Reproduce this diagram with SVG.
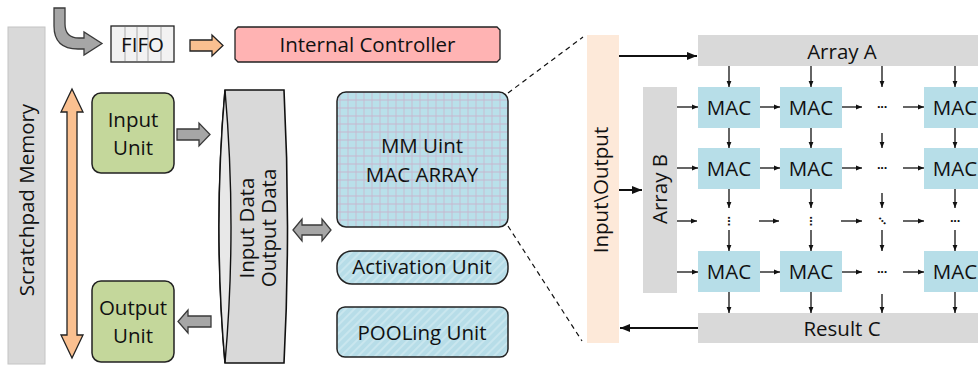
<svg xmlns="http://www.w3.org/2000/svg" width="978" height="366" viewBox="0 0 978 366">
<style>
text{font-family:"Open Sans","Liberation Sans",sans-serif;font-size:20.5px;fill:#111;text-anchor:middle}
.thin{stroke:#111;stroke-width:1.3;fill:none;marker-end:url(#ah)}
.thick{stroke:#111;stroke-width:2;fill:none;marker-end:url(#bh)}
.mac{fill:#b7dee8}
.bar{fill:#d9d9d9}
.grayarrow{fill:#a6a6a6;stroke:#3a3a3a;stroke-width:1.3;stroke-linejoin:miter}
.orange{fill:#fac090;stroke:#222;stroke-width:1.3}
.unit{fill:#c4d79b;stroke:#222;stroke-width:1.5}
.dots{font-family:"Liberation Sans",sans-serif;font-size:13px;font-weight:bold;letter-spacing:-1px}
.dash{stroke:#111;stroke-width:1.2;stroke-dasharray:5,4;fill:none}
</style>
<defs>
<marker id="ah" viewBox="0 0 10 10" refX="10" refY="5" markerWidth="6" markerHeight="6" markerUnits="userSpaceOnUse" orient="auto"><path d="M0,1 L10,5 L0,9 z" fill="#111"/></marker>
<marker id="bh" viewBox="0 0 10 10" refX="10" refY="5" markerWidth="10" markerHeight="10" markerUnits="userSpaceOnUse" orient="auto"><path d="M0,1 L10,5 L0,9 z" fill="#111"/></marker>
<pattern id="plaid" width="8" height="8" patternUnits="userSpaceOnUse">
<rect width="8" height="8" fill="#b9e0ea"/>
<rect x="0" y="3" width="8" height="2" fill="#c7b9cf" opacity="0.55"/>
<rect x="3" y="0" width="2" height="8" fill="#c7b9cf" opacity="0.45"/>
</pattern>
<pattern id="hatch" width="6" height="6" patternUnits="userSpaceOnUse" patternTransform="rotate(45)">
<rect width="6" height="6" fill="#b7dde8"/>
<rect x="0" y="0" width="2" height="6" fill="#c9e6ee"/>
</pattern>
</defs>

<g id="scratchpad">
<rect x="8" y="27" width="37" height="337" fill="#d9d9d9" stroke="#c4c4c4" stroke-width="1"/>
<text transform="translate(34,200) rotate(-90)">Scratchpad Memory</text>
</g>

<g id="in-arrow">
<path class="grayarrow" d="M54,8 L65,8 L65,24 Q65,38 79,38 L84,38 L84,32 L102,43.5 L84,55 L84,49 L78,49 Q54,49 54,26 Z"/>
</g>

<g id="fifo">
<rect x="111" y="26" width="63" height="36" fill="#f2f2f2" stroke="#222" stroke-width="1.3"/>
<path d="M125,27V61M137,27V61M148,27V61M161,27V61" stroke="#aaa" stroke-width="1"/>
<text x="142.5" y="52">FIFO</text>
</g>

<g id="controller">
<polygon points="238,27 497,27 500,30 500,59 497,62 238,62 235,59 235,30" fill="#ffb3b3" stroke="#222" stroke-width="1.3"/>
<text x="367.5" y="52">Internal Controller</text>
</g>

<g id="input-unit">
<rect class="unit" x="92" y="93" width="82" height="80" rx="9"/>
<text x="133" y="127">Input</text>
<text x="133" y="155">Unit</text>
</g>

<g id="output-unit">
<rect class="unit" x="92" y="281" width="82" height="81" rx="9"/>
<text x="133" y="315">Output</text>
<text x="133" y="343">Unit</text>
</g>

<g id="data-buffer">
<path d="M225,90 L284,90 Q291,227 284,363 L225,363 Q213,227 225,90 Z" fill="#d9d9d9" stroke="#111" stroke-width="1.6"/>
<path d="M225,90 Q237,227 225,363 Q213,227 225,90 Z" fill="#e8e8e8" stroke="#111" stroke-width="1.4"/>
<text transform="translate(254,228) rotate(-90)">Input Data</text>
<text transform="translate(276,228) rotate(-90)">Output Data</text>
</g>

<g id="mac-array">
<rect x="337" y="92" width="171" height="135" rx="9" fill="url(#plaid)" stroke="#222" stroke-width="1.5"/>
<text x="422" y="153">MM Uint</text>
<text x="422" y="182">MAC ARRAY</text>
</g>

<g id="activation">
<rect x="337" y="251" width="171" height="33" rx="15" fill="url(#hatch)" stroke="#222" stroke-width="1.5"/>
<text x="422" y="274">Activation Unit</text>
</g>

<g id="pooling">
<rect x="337" y="307" width="171" height="50" rx="8" fill="url(#hatch)" stroke="#222" stroke-width="1.5"/>
<text x="422" y="340">POOLing Unit</text>
</g>

<g id="io-bar">
<rect x="587" y="35" width="32" height="308" fill="#fde9d9"/>
<text transform="translate(608,190) rotate(-90)">Input\Output</text>
</g>

<g id="array-a">
<rect class="bar" x="698" y="35" width="288" height="31"/>
<text x="842" y="59">Array A</text>
</g>

<g id="array-b">
<rect class="bar" x="643" y="87" width="34" height="206"/>
<text transform="translate(667,189) rotate(-90)">Array B</text>
</g>

<g id="result-c">
<rect class="bar" x="698" y="313" width="288" height="30"/>
<text x="842" y="336">Result C</text>
</g>

<g id="mac-cells">
<rect class="mac" x="698" y="87" width="62" height="41"/><text x="729" y="115">MAC</text>
<rect class="mac" x="780" y="87" width="62" height="41"/><text x="811" y="115">MAC</text>
<rect class="mac" x="924" y="87" width="62" height="41"/><text x="955" y="115">MAC</text>
<rect class="mac" x="698" y="148" width="62" height="41"/><text x="729" y="176">MAC</text>
<rect class="mac" x="780" y="148" width="62" height="41"/><text x="811" y="176">MAC</text>
<rect class="mac" x="924" y="148" width="62" height="41"/><text x="955" y="176">MAC</text>
<rect class="mac" x="698" y="251" width="62" height="41"/><text x="729" y="279">MAC</text>
<rect class="mac" x="780" y="251" width="62" height="41"/><text x="811" y="279">MAC</text>
<rect class="mac" x="924" y="251" width="62" height="41"/><text x="955" y="279">MAC</text>
<text class="dots" x="882" y="111">···</text>
<text class="dots" x="882" y="172">···</text>
<text class="dots" x="882" y="276">···</text>
<text class="dots" x="955" y="225">···</text>
<text class="dots" transform="translate(729,221) rotate(90)" y="4">···</text>
<text class="dots" transform="translate(811,221) rotate(90)" y="4">···</text>
<text class="dots" transform="translate(882,221) rotate(45)" y="4">···</text>
</g>

<g id="connectors">
<path class="orange" d="M190,40 L212,40 L212,35 L223,45.5 L212,56 L212,51 L190,51 Z"/>
<path class="orange" d="M72,89 L83,112 L77,112 L77,335 L83,335 L72,358 L61,335 L67,335 L67,112 L61,112 Z"/>
<path class="grayarrow" d="M177,129 L199,129 L199,123 L210,134.5 L199,146 L199,140 L177,140 Z"/>
<path class="grayarrow" d="M211,316 L188,316 L188,310 L178,321.5 L188,333 L188,327 L211,327 Z"/>
<path class="grayarrow" d="M293,230 L302,219 L302,225 L322,225 L322,219 L331,230 L322,241 L322,235 L302,235 L302,241 Z"/>
<line class="dash" x1="508" y1="93" x2="583" y2="37"/>
<line class="dash" x1="508" y1="226" x2="582" y2="341"/>
<line class="thick" x1="619" y1="56" x2="697" y2="56"/>
<line class="thick" x1="619" y1="190" x2="642" y2="190"/>
<line class="thick" x1="698" y1="328" x2="620" y2="328"/>

<line class="thin" x1="729" y1="66" x2="729" y2="87"/>
<line class="thin" x1="811" y1="66" x2="811" y2="87"/>
<line class="thin" x1="882" y1="66" x2="882" y2="87"/>
<line class="thin" x1="955" y1="66" x2="955" y2="87"/>
<line class="thin" x1="729" y1="128" x2="729" y2="148"/>
<line class="thin" x1="811" y1="128" x2="811" y2="148"/>
<line class="thin" x1="882" y1="133" x2="882" y2="148"/>
<line class="thin" x1="955" y1="128" x2="955" y2="148"/>
<line class="thin" x1="729" y1="189" x2="729" y2="208"/>
<line class="thin" x1="811" y1="189" x2="811" y2="208"/>
<line class="thin" x1="882" y1="193" x2="882" y2="208"/>
<line class="thin" x1="955" y1="189" x2="955" y2="208"/>
<line class="thin" x1="729" y1="230" x2="729" y2="251"/>
<line class="thin" x1="811" y1="230" x2="811" y2="251"/>
<line class="thin" x1="882" y1="230" x2="882" y2="251"/>
<line class="thin" x1="955" y1="230" x2="955" y2="251"/>
<line class="thin" x1="729" y1="292" x2="729" y2="313"/>
<line class="thin" x1="811" y1="292" x2="811" y2="313"/>
<line class="thin" x1="882" y1="294" x2="882" y2="313"/>
<line class="thin" x1="955" y1="292" x2="955" y2="313"/>

<line class="thin" x1="677" y1="107" x2="698" y2="107"/>
<line class="thin" x1="760" y1="107" x2="780" y2="107"/>
<line class="thin" x1="842" y1="107" x2="862" y2="107"/>
<line class="thin" x1="903" y1="107" x2="924" y2="107"/>
<line class="thin" x1="677" y1="168" x2="698" y2="168"/>
<line class="thin" x1="760" y1="168" x2="780" y2="168"/>
<line class="thin" x1="842" y1="168" x2="862" y2="168"/>
<line class="thin" x1="903" y1="168" x2="924" y2="168"/>
<line class="thin" x1="677" y1="221" x2="697" y2="221"/>
<line class="thin" x1="759" y1="221" x2="779" y2="221"/>
<line class="thin" x1="841" y1="221" x2="862" y2="221"/>
<line class="thin" x1="903" y1="221" x2="924" y2="221"/>
<line class="thin" x1="677" y1="272" x2="698" y2="272"/>
<line class="thin" x1="760" y1="272" x2="780" y2="272"/>
<line class="thin" x1="842" y1="272" x2="862" y2="272"/>
<line class="thin" x1="903" y1="272" x2="924" y2="272"/>
</g>
</svg>
